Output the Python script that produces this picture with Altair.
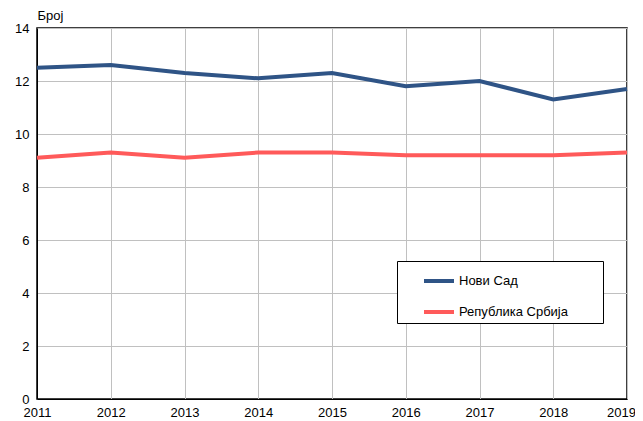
import altair as alt
import pandas as pd

years = [2011, 2012, 2013, 2014, 2015, 2016, 2017, 2018, 2019]
novi_sad = [12.5, 12.6, 12.3, 12.1, 12.3, 11.8, 12.0, 11.3, 11.7]
srbija = [9.1, 9.3, 9.1, 9.3, 9.3, 9.2, 9.2, 9.2, 9.3]
series = ["Нови Сад", "Република Србија"]
colors = ["#2F5486", "#FF5A5A"]

df = pd.DataFrame({
    "year": years * 2,
    "value": novi_sad + srbija,
    "series": [series[0]] * len(years) + [series[1]] * len(years),
})

font = "Liberation Sans"

chart = alt.Chart(df).mark_line(strokeWidth=4).encode(
    x=alt.X("year:Q", scale=alt.Scale(domain=[2011, 2019], nice=False),
            axis=alt.Axis(values=years, format="d", title=None, ticks=False,
                          labelPadding=7, labelFontSize=13, labelColor="#000",
                          labelFont=font, domainColor="#000", gridColor="#C0C0C0",
                          labelFlush=False,
                          labelOffset=alt.expr("datum.value == 2019 ? -6 : 0"))),
    y=alt.Y("value:Q", scale=alt.Scale(domain=[0, 14], nice=False),
            axis=alt.Axis(values=[0, 2, 4, 6, 8, 10, 12, 14], title="Број",
                          titleAngle=0, titleAlign="left", titleBaseline="alphabetic",
                          titleX=0, titleY=-9,
                          titleFontWeight="normal", titleFontSize=13, titleFont=font,
                          titleColor="#000", ticks=False, labelPadding=8,
                          labelFontSize=13, labelFont=font, labelColor="#000",
                          domainColor="#000", gridColor="#C0C0C0")),
    color=alt.Color("series:N", scale=alt.Scale(domain=series, range=colors),
                    legend=alt.Legend(orient="none", legendX=360, legendY=233,
                                      title="\u00a0", titleOrient="right", titlePadding=32,
                                      titleFontSize=13,
                                      strokeColor="#000", fillColor="#fff", padding=3,
                                      symbolType="stroke", symbolSize=900,
                                      symbolStrokeWidth=4, symbolOffset=22,
                                      labelFontSize=13, labelFont=font, labelColor="#000",
                                      labelOffset=3, rowPadding=6)),
).properties(
    width=590, height=371,
    autosize=alt.AutoSizeParams(type="none"),
    padding={"left": 29, "top": 20, "right": 8, "bottom": 22},
).configure_view(stroke="#000", strokeWidth=1.5)

chart.save("out.html", embed_options={"renderer": "svg", "actions": False})
